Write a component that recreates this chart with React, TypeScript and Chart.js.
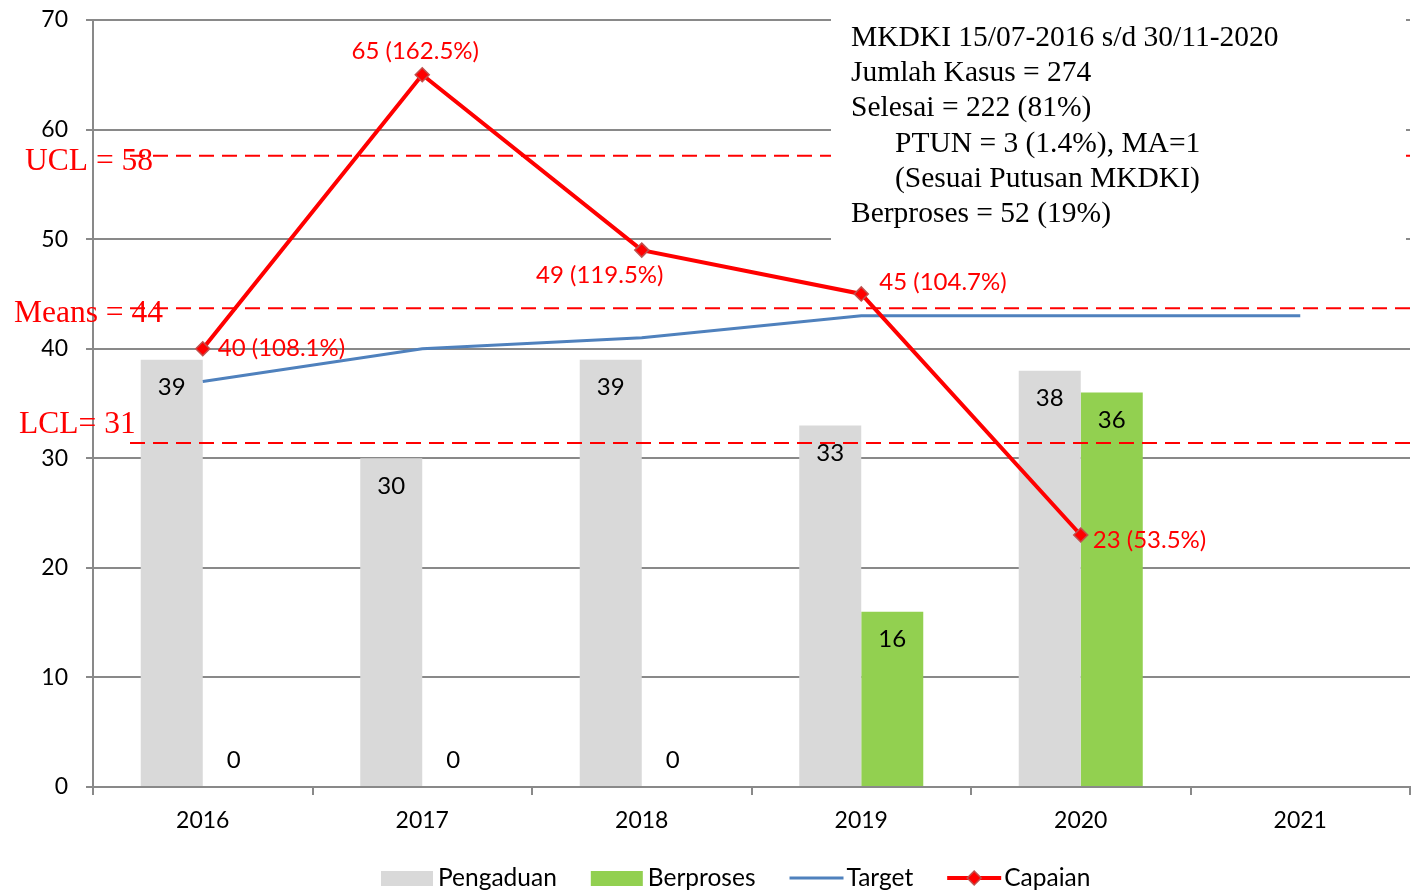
import React, { useEffect, useRef } from "react";
import { Chart, registerables } from "chart.js";

Chart.register(...registerables);

// ---- data ----
const years = ["2016", "2017", "2018", "2019", "2020", "2021"];
const pengaduan = [39, 30, 39, 33, 38, null];
const berproses = [0, 0, 0, 16, 36, null];
const target = [37, 40, 41, 43, 43, 43];
const capaian = [40, 65, 49, 45, 23, null];
const capaianPct = ["108.1%", "162.5%", "119.5%", "104.7%", "53.5%", ""];
const controlNames = ["UCL = 58", "Means = 44", "LCL= 31"];
const controlValues = [57.6, 43.7, 31.4];
const infoLines = [
  "MKDKI 15/07-2016 s/d 30/11-2020",
  "Jumlah Kasus = 274",
  "Selesai = 222 (81%)",
  "PTUN = 3 (1.4%), MA=1",
  "(Sesuai Putusan MKDKI)",
  "Berproses = 52 (19%)",
];
const yMin = 0;
const yMax = 70;
const yStep = 10;

// ---- styles ----
const SANS = "Lato";
const SERIF = "'Liberation Serif', 'Times New Roman', serif";
const GREY_BAR = "#d9d9d9";
const GREEN_BAR = "#92d050";
const BLUE = "#4f81bd";
const RED = "#ff0000";
const GRID = "#898989";

// label placement for Capaian labels: [dx, dy, align]
const capLabelPlace: [number, number, CanvasTextAlign][] = [
  [15, 0, "left"],
  [-7, -24, "center"],
  [-42, 25, "center"],
  [18, -12, "left"],
  [12, 5, "left"],
  [0, 0, "left"],
];
const controlLabelPos: [number, number][] = [
  [25, 170],
  [14, 322],
  [19, 433],
];
const infoIndent = [0, 0, 0, 44, 44, 0];

const overlayPlugin = {
  id: "overlay",
  afterDatasetsDraw(chart: any) {
    const ctx: CanvasRenderingContext2D = chart.ctx;
    const ys = chart.scales.y;
    const area = chart.chartArea;
    ctx.save();

    // bar value labels
    ctx.font = `24px ${SANS}`;
    ctx.fillStyle = "#000";
    ctx.textAlign = "center";
    ctx.textBaseline = "middle";
    [0, 1].forEach((di) => {
      const meta = chart.getDatasetMeta(di);
      const vals = chart.data.datasets[di].data;
      meta.data.forEach((el: any, i: number) => {
        const v = vals[i];
        if (v == null) return;
        const yy = v > 0 ? el.y + 28 : el.base - 27;
        ctx.fillText(String(v), el.x, yy);
      });
    });

    // control lines
    ctx.strokeStyle = RED;
    ctx.lineWidth = 2;
    ctx.setLineDash([15, 8]);
    controlValues.forEach((v) => {
      const py = ys.getPixelForValue(v);
      ctx.beginPath();
      ctx.moveTo(130, py);
      ctx.lineTo(area.right, py);
      ctx.stroke();
    });
    ctx.setLineDash([]);

    // control labels
    ctx.font = `31.5px ${SERIF}`;
    ctx.fillStyle = RED;
    ctx.textAlign = "left";
    ctx.textBaseline = "alphabetic";
    controlNames.forEach((t, i) => {
      ctx.fillText(t, controlLabelPos[i][0], controlLabelPos[i][1]);
    });

    // capaian labels
    const cmeta = chart.getDatasetMeta(3);
    ctx.font = `24px ${SANS}`;
    ctx.textBaseline = "middle";
    cmeta.data.forEach((el: any, i: number) => {
      const v = capaian[i];
      if (v == null) return;
      const [dx, dy, al] = capLabelPlace[i];
      ctx.textAlign = al;
      ctx.fillText(`${v} (${capaianPct[i]})`, el.x + dx, el.y + dy);
    });

    // info box
    ctx.fillStyle = "#fff";
    ctx.fillRect(831, 12, 575, 232);
    ctx.fillStyle = "#000";
    ctx.font = `29.5px ${SERIF}`;
    ctx.textAlign = "left";
    ctx.textBaseline = "alphabetic";
    infoLines.forEach((t, i) => {
      ctx.fillText(t, 851 + infoIndent[i], 46 + i * 35.2);
    });

    ctx.restore();
  },
  afterDraw(chart: any) {
    const ctx: CanvasRenderingContext2D = chart.ctx;
    ctx.save();
    ctx.font = `24.5px ${SANS}`;
    ctx.textBaseline = "middle";
    ctx.textAlign = "left";
    const ly = 878;
    let x = 381;
    const ds = chart.data.datasets;
    ds.forEach((d: any) => {
      if (d.type === "bar") {
        ctx.fillStyle = d.backgroundColor;
        ctx.fillRect(x, ly - 7, 52, 15);
      } else {
        ctx.strokeStyle = d.borderColor;
        ctx.lineWidth = d.borderWidth;
        ctx.beginPath();
        ctx.moveTo(x, ly);
        ctx.lineTo(x + 54, ly);
        ctx.stroke();
        if (d.pointRadius > 0) {
          const cx = x + 27;
          const r = d.pointRadius;
          ctx.beginPath();
          ctx.moveTo(cx, ly - r);
          ctx.lineTo(cx + r, ly);
          ctx.lineTo(cx, ly + r);
          ctx.lineTo(cx - r, ly);
          ctx.closePath();
          ctx.fillStyle = d.pointBackgroundColor;
          ctx.fill();
          ctx.strokeStyle = d.pointBorderColor;
          ctx.lineWidth = 1.5;
          ctx.stroke();
        }
      }
      const tx = x + 57;
      ctx.fillStyle = "#000";
      ctx.fillText(d.label, tx, ly);
      x = tx + ctx.measureText(d.label).width + 34;
    });
    ctx.restore();
  },
};

export default function App() {
  const ref = useRef<HTMLCanvasElement | null>(null);

  useEffect(() => {
    if (!ref.current) return;
    const chart = new Chart(ref.current, {
      type: "bar",
      data: {
        labels: years,
        datasets: [
          {
            type: "bar",
            label: "Pengaduan",
            data: pengaduan,
            backgroundColor: GREY_BAR,
            order: 2,
            barPercentage: 1,
            categoryPercentage: 0.565,
          },
          {
            type: "bar",
            label: "Berproses",
            data: berproses,
            backgroundColor: GREEN_BAR,
            order: 3,
            barPercentage: 1,
            categoryPercentage: 0.565,
          },
          {
            type: "line",
            label: "Target",
            data: target,
            borderColor: BLUE,
            borderWidth: 3,
            pointRadius: 0,
            tension: 0,
            order: 1,
          },
          {
            type: "line",
            label: "Capaian",
            data: capaian,
            borderColor: RED,
            borderWidth: 4,
            pointStyle: "rectRot",
            pointRadius: 7,
            pointBackgroundColor: RED,
            pointBorderColor: "#c0504d",
            pointBorderWidth: 1.5,
            tension: 0,
            order: 0,
          },
        ] as any,
      },
      options: {
        animation: false,
        responsive: false,
        layout: { autoPadding: false, padding: { top: 20, left: 0, right: 2, bottom: 0 } },
        plugins: {
          legend: { display: false },
          tooltip: { enabled: false },
        },
        scales: {
          x: {
            offset: true,
            grid: {
              display: true,
              offset: true,
              drawOnChartArea: false,
              drawTicks: true,
              tickLength: 8,
              color: GRID,
              lineWidth: 2,
            },
            border: { display: true, color: GRID, width: 2 },
            ticks: {
              font: { family: SANS, size: 23 },
              color: "#000",
              padding: 12,
              maxRotation: 0,
            },
            afterFit: (s: any) => {
              s.height = 104;
              s.paddingLeft = 0;
              s.paddingRight = 0;
            },
          },
          y: {
            min: yMin,
            max: yMax,
            ticks: {
              stepSize: yStep,
              font: { family: SANS, size: 23 },
              color: "#000",
              padding: 18,
            },
            grid: {
              color: GRID,
              lineWidth: 2,
              tickLength: 7,
            },
            border: { display: true, color: GRID, width: 2 },
            afterFit: (s: any) => {
              s.width = 93;
              s.paddingTop = 0;
              s.paddingBottom = 0;
            },
          },
        },
      },
      plugins: [overlayPlugin],
    });
    return () => chart.destroy();
  }, []);

  return (
    <div style={{ position: "fixed", left: 0, top: 0, width: 1412, height: 891, background: "#fff" }}>
      <canvas ref={ref} width={1412} height={891} style={{ display: "block" }} />
    </div>
  );
}
